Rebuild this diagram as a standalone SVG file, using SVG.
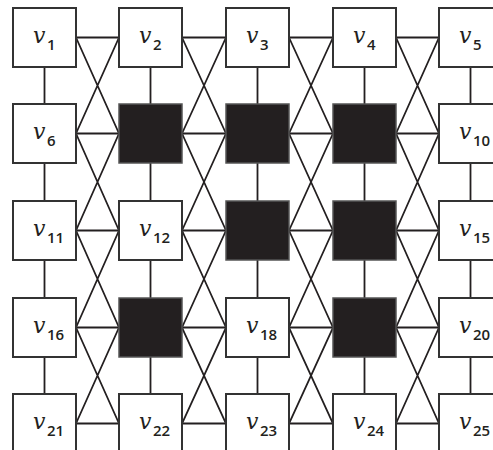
<svg xmlns="http://www.w3.org/2000/svg" width="493" height="450" viewBox="0 0 493 450">
<style>
.n{fill:#fff;stroke:#333;stroke-width:2}
.b{fill:#231f20;stroke:#555;stroke-width:1.5}
.e{fill:none;stroke:#231f20;stroke-width:1.8}
.l{fill:#231f20}
.v{font-family:"DejaVu Serif",serif;font-style:italic;font-size:22px}
.s{font-family:"Open Sans","Liberation Sans",sans-serif;font-weight:600;font-size:15px}
</style>
<rect width="493" height="450" fill="#fff"/>
<g id="connectors" class="e">
<path d="M76 37.5H119M182 37.5H226M289 37.5H333M396 37.5H439"/>
<path d="M76 133.5H119M182 133.5H226M289 133.5H333M396 133.5H439"/>
<path d="M76 230.5H119M182 230.5H226M289 230.5H333M396 230.5H439"/>
<path d="M76 327.5H119M182 327.5H226M289 327.5H333M396 327.5H439"/>
<path d="M76 423.5H119M182 423.5H226M289 423.5H333M396 423.5H439"/>
<path d="M44.5 67V104M44.5 163V201M44.5 260V298M44.5 357V394"/>
<path d="M150.5 67V104M150.5 163V201M150.5 260V298M150.5 357V394"/>
<path d="M257.5 67V104M257.5 163V201M257.5 260V298M257.5 357V394"/>
<path d="M364.5 67V104M364.5 163V201M364.5 260V298M364.5 357V394"/>
<path d="M470.5 67V104M470.5 163V201M470.5 260V298M470.5 357V394"/>
<path d="M76 37.5L119 133.5M76 133.5L119 37.5M76 133.5L119 230.5M76 230.5L119 133.5M76 230.5L119 327.5M76 327.5L119 230.5M76 327.5L119 423.5M76 423.5L119 327.5"/>
<path d="M182 37.5L226 133.5M182 133.5L226 37.5M182 133.5L226 230.5M182 230.5L226 133.5M182 230.5L226 327.5M182 327.5L226 230.5M182 327.5L226 423.5M182 423.5L226 327.5"/>
<path d="M289 37.5L333 133.5M289 133.5L333 37.5M289 133.5L333 230.5M289 230.5L333 133.5M289 230.5L333 327.5M289 327.5L333 230.5M289 327.5L333 423.5M289 423.5L333 327.5"/>
<path d="M396 37.5L439 133.5M396 133.5L439 37.5M396 133.5L439 230.5M396 230.5L439 133.5M396 230.5L439 327.5M396 327.5L439 230.5M396 327.5L439 423.5M396 423.5L439 327.5"/>
</g>
<g id="v1"><rect class="n" x="13" y="8" width="63" height="59"/><text class="l" x="33" y="42.5"><tspan class="v">v</tspan><tspan class="s" dx="1.5" dy="7.5">1</tspan></text></g>
<g id="v2"><rect class="n" x="119" y="8" width="63" height="59"/><text class="l" x="139" y="42.5"><tspan class="v">v</tspan><tspan class="s" dx="1.5" dy="7.5">2</tspan></text></g>
<g id="v3"><rect class="n" x="226" y="8" width="63" height="59"/><text class="l" x="246" y="42.5"><tspan class="v">v</tspan><tspan class="s" dx="1.5" dy="7.5">3</tspan></text></g>
<g id="v4"><rect class="n" x="333" y="8" width="63" height="59"/><text class="l" x="353" y="42.5"><tspan class="v">v</tspan><tspan class="s" dx="1.5" dy="7.5">4</tspan></text></g>
<g id="v5"><rect class="n" x="439" y="8" width="63" height="59"/><text class="l" x="459" y="42.5"><tspan class="v">v</tspan><tspan class="s" dx="1.5" dy="7.5">5</tspan></text></g>
<g id="v6"><rect class="n" x="13" y="104" width="63" height="59"/><text class="l" x="33" y="138.5"><tspan class="v">v</tspan><tspan class="s" dx="1.5" dy="7.5">6</tspan></text></g>
<g id="v7"><rect class="b" x="119" y="104" width="63" height="59"/></g>
<g id="v8"><rect class="b" x="226" y="104" width="63" height="59"/></g>
<g id="v9"><rect class="b" x="333" y="104" width="63" height="59"/></g>
<g id="v10"><rect class="n" x="439" y="104" width="63" height="59"/><text class="l" x="459" y="138.5"><tspan class="v">v</tspan><tspan class="s" dx="1.5" dy="7.5">10</tspan></text></g>
<g id="v11"><rect class="n" x="13" y="201" width="63" height="59"/><text class="l" x="33" y="235.5"><tspan class="v">v</tspan><tspan class="s" dx="1.5" dy="7.5">11</tspan></text></g>
<g id="v12"><rect class="n" x="119" y="201" width="63" height="59"/><text class="l" x="139" y="235.5"><tspan class="v">v</tspan><tspan class="s" dx="1.5" dy="7.5">12</tspan></text></g>
<g id="v13"><rect class="b" x="226" y="201" width="63" height="59"/></g>
<g id="v14"><rect class="b" x="333" y="201" width="63" height="59"/></g>
<g id="v15"><rect class="n" x="439" y="201" width="63" height="59"/><text class="l" x="459" y="235.5"><tspan class="v">v</tspan><tspan class="s" dx="1.5" dy="7.5">15</tspan></text></g>
<g id="v16"><rect class="n" x="13" y="298" width="63" height="59"/><text class="l" x="33" y="332.5"><tspan class="v">v</tspan><tspan class="s" dx="1.5" dy="7.5">16</tspan></text></g>
<g id="v17"><rect class="b" x="119" y="298" width="63" height="59"/></g>
<g id="v18"><rect class="n" x="226" y="298" width="63" height="59"/><text class="l" x="246" y="332.5"><tspan class="v">v</tspan><tspan class="s" dx="1.5" dy="7.5">18</tspan></text></g>
<g id="v19"><rect class="b" x="333" y="298" width="63" height="59"/></g>
<g id="v20"><rect class="n" x="439" y="298" width="63" height="59"/><text class="l" x="459" y="332.5"><tspan class="v">v</tspan><tspan class="s" dx="1.5" dy="7.5">20</tspan></text></g>
<g id="v21"><rect class="n" x="13" y="394" width="63" height="59"/><text class="l" x="33" y="428.5"><tspan class="v">v</tspan><tspan class="s" dx="1.5" dy="7.5">21</tspan></text></g>
<g id="v22"><rect class="n" x="119" y="394" width="63" height="59"/><text class="l" x="139" y="428.5"><tspan class="v">v</tspan><tspan class="s" dx="1.5" dy="7.5">22</tspan></text></g>
<g id="v23"><rect class="n" x="226" y="394" width="63" height="59"/><text class="l" x="246" y="428.5"><tspan class="v">v</tspan><tspan class="s" dx="1.5" dy="7.5">23</tspan></text></g>
<g id="v24"><rect class="n" x="333" y="394" width="63" height="59"/><text class="l" x="353" y="428.5"><tspan class="v">v</tspan><tspan class="s" dx="1.5" dy="7.5">24</tspan></text></g>
<g id="v25"><rect class="n" x="439" y="394" width="63" height="59"/><text class="l" x="459" y="428.5"><tspan class="v">v</tspan><tspan class="s" dx="1.5" dy="7.5">25</tspan></text></g>
</svg>
